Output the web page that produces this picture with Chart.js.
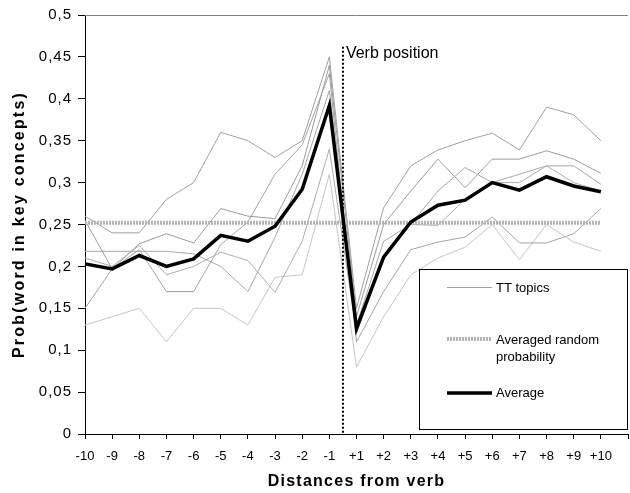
<!DOCTYPE html>
<html>
<head>
<meta charset="utf-8">
<script src="https://cdn.jsdelivr.net/npm/chart.js@4"></script>
<style>
html,body{margin:0;padding:0;background:#fff;}
#wrap{width:630px;height:493px;position:relative;}
</style>
</head>
<body>
<div id="wrap"><canvas id="c" width="630" height="493"></canvas></div>
<script>
// ---- data ----
const xLabels = ['-10','-9','-8','-7','-6','-5','-4','-3','-2','-1','+1','+2','+3','+4','+5','+6','+7','+8','+9','+10',''];
const topicA = [0.26,0.24,0.24,0.28,0.30,0.36,0.35,0.33,0.35,0.45, 0.15,0.27,0.32,0.339,0.35,0.359,0.339,0.39,0.381,0.35];
const topicB = [0.255,0.197,0.227,0.239,0.228,0.269,0.26,0.257,0.32,0.44, 0.14,0.25,0.29,0.328,0.294,0.328,0.328,0.338,0.328,0.311];
const topicC = [0.218,0.218,0.218,0.218,0.215,0.20,0.17,0.235,0.31,0.41, 0.13,0.23,0.25,0.29,0.318,0.30,0.31,0.32,0.32,0.298];
const topicD = [0.21,0.20,0.225,0.19,0.20,0.217,0.207,0.169,0.23,0.34, 0.12,0.21,0.25,0.249,0.28,0.30,0.30,0.32,0.30,0.29];
const topicE = [0.15,0.197,0.22,0.17,0.17,0.226,0.253,0.31,0.345,0.43, 0.11,0.17,0.22,0.229,0.235,0.259,0.228,0.228,0.239,0.269];
const topicF = [0.13,0.14,0.15,0.11,0.15,0.15,0.13,0.187,0.19,0.31, 0.08,0.14,0.19,0.21,0.223,0.25,0.208,0.25,0.229,0.218];
const averageValues = [0.203,0.197,0.213,0.200,0.209,0.237,0.230,0.248,0.292,0.392, 0.126,0.211,0.253,0.273,0.279,0.300,0.291,0.307,0.296,0.289];
const randomProb = 0.252;
const randomValues = averageValues.map(() => randomProb);
const verbPosition = 9.5; // category index between -1 and +1
const legendItems = ['TT topics', 'Averaged random|probability', 'Average'];

const FONT = '"Liberation Sans", Arial, sans-serif';
const topicColors = ['#a0a0a0','#9c9c9c','#a8a8a8','#adadad','#a4a4a4','#c6c6c6'];
const topics = [topicA, topicB, topicC, topicD, topicE, topicF];

const datasets = topics.map((d, i) => ({
  label: 'TT topics', data: d, borderColor: topicColors[i], borderWidth: 1,
  pointRadius: 0, tension: 0, fill: false, order: 3
}));
datasets.push({
  label: 'Averaged random probability', data: randomValues, borderColor: '#b4b4b4',
  borderWidth: 4, borderDash: [2,1], pointRadius: 0, tension: 0, fill: false, order: 2
});
datasets.push({
  label: 'Average', data: averageValues, borderColor: '#000', borderWidth: 3.5,
  pointRadius: 0, tension: 0, fill: false, order: 1, borderJoinStyle: 'miter'
});

function spaced(ctx, px, fn) {
  ctx.save();
  try { ctx.letterSpacing = px + 'px'; } catch (e) {}
  fn();
  ctx.restore();
}
function patchScale(s, labelSpacing, titleSpacing) {
  if (s._patched) return;
  s._patched = true;
  const dl = s.drawLabels.bind(s);
  s.drawLabels = function (area) { spaced(this.ctx, labelSpacing, () => dl(area)); };
  const dt = s.drawTitle.bind(s);
  s.drawTitle = function (area) { spaced(this.ctx, titleSpacing, () => dt(area)); };
}

const overlay = {
  id: 'overlay',
  beforeDatasetsDraw(chart) {
    const ctx = chart.ctx, y = chart.scales.y, a = chart.chartArea;
    const ty = Math.round(y.getPixelForValue(0.5)) + 0.5;
    ctx.save();
    ctx.strokeStyle = '#808080'; ctx.lineWidth = 1;
    ctx.beginPath(); ctx.moveTo(a.left, ty); ctx.lineTo(a.right, ty); ctx.stroke();
    ctx.restore();
  },
  afterDatasetsDraw(chart) {
    const ctx = chart.ctx, x = chart.scales.x, y = chart.scales.y;
    const i0 = Math.floor(verbPosition);
    const px = x.getPixelForValue(i0) + (verbPosition - i0) * (x.getPixelForValue(i0 + 1) - x.getPixelForValue(i0));
    ctx.save();
    ctx.strokeStyle = '#000'; ctx.lineWidth = 2; ctx.setLineDash([2,2]);
    ctx.beginPath(); ctx.moveTo(px, y.getPixelForValue(0.462)); ctx.lineTo(px, y.bottom); ctx.stroke();
    ctx.setLineDash([]);
    ctx.fillStyle = '#000'; ctx.font = '16px ' + FONT; ctx.textBaseline = 'middle'; ctx.textAlign = 'left';
    ctx.fillText('Verb position', px + 3, y.getPixelForValue(0.4545));

    // legend box
    const bx = 419.5, by = 269.5, bw = 208, bh = 160;
    ctx.fillStyle = '#fff'; ctx.fillRect(bx, by, bw, bh);
    ctx.strokeStyle = '#000'; ctx.lineWidth = 1; ctx.strokeRect(bx, by, bw, bh);
    const lx0 = 447, lx1 = 492, tx = 496;
    ctx.font = '13px ' + FONT;
    // TT topics
    ctx.strokeStyle = '#a0a0a0'; ctx.lineWidth = 1;
    ctx.beginPath(); ctx.moveTo(lx0, 287.5); ctx.lineTo(lx1, 287.5); ctx.stroke();
    ctx.fillStyle = '#000';
    ctx.fillText(legendItems[0], tx, 288);
    // random
    ctx.strokeStyle = '#b4b4b4'; ctx.lineWidth = 4; ctx.setLineDash([2,1]);
    ctx.beginPath(); ctx.moveTo(lx0, 339); ctx.lineTo(lx1, 339); ctx.stroke();
    ctx.setLineDash([]);
    const parts = legendItems[1].split('|');
    ctx.fillText(parts[0], tx, 340);
    ctx.fillText(parts[1], tx, 357);
    // average
    ctx.strokeStyle = '#000'; ctx.lineWidth = 3.5;
    ctx.beginPath(); ctx.moveTo(lx0, 393); ctx.lineTo(lx1, 393); ctx.stroke();
    ctx.fillText(legendItems[2], tx, 393.5);
    ctx.restore();
  }
};

new Chart(document.getElementById('c'), {
  type: 'line',
  data: { labels: xLabels, datasets },
  options: {
    responsive: false, animation: false, devicePixelRatio: 1,
    layout: { padding: { top: 14, right: 2, left: 0, bottom: 0 } },
    plugins: { legend: { display: false }, tooltip: { enabled: false } },
    scales: {
      x: {
        type: 'category', offset: false,
        grid: { display: true, color: 'transparent', tickColor: '#000', tickLength: 5, offset: false, drawOnChartArea: false },
        border: { display: true, color: '#000', width: 1 },
        ticks: { autoSkip: false, maxRotation: 0, minRotation: 0, padding: 10, color: '#000', font: { family: FONT, size: 13 } },
        title: { display: true, text: 'Distances from verb', color: '#000', font: { family: FONT, size: 16, weight: 'bold' }, padding: { top: 0, bottom: 2 } },
        afterFit(s) { s.height = 59; s.paddingLeft = 0; s.paddingRight = 0; },
        afterUpdate(s) { patchScale(s, 0, 1.25); }
      },
      y: {
        min: 0, max: 0.5,
        grid: { color: 'transparent', tickColor: '#000', tickLength: 7 },
        border: { display: true, color: '#000', width: 1 },
        ticks: {
          stepSize: 0.05, padding: 6, color: '#000', font: { family: FONT, size: 15 },
          callback: (v) => String(Math.round(v * 100) / 100).replace('.', ',')
        },
        title: { display: true, text: 'Prob(word in key concepts)', color: '#000', font: { family: FONT, size: 16, weight: 'bold' }, padding: { top: 10, bottom: 0 } },
        afterFit(s) { s.width = 85; },
        afterUpdate(s) { patchScale(s, 1, 2.2); }
      }
    }
  },
  plugins: [overlay]
});
</script>
</body>
</html>
